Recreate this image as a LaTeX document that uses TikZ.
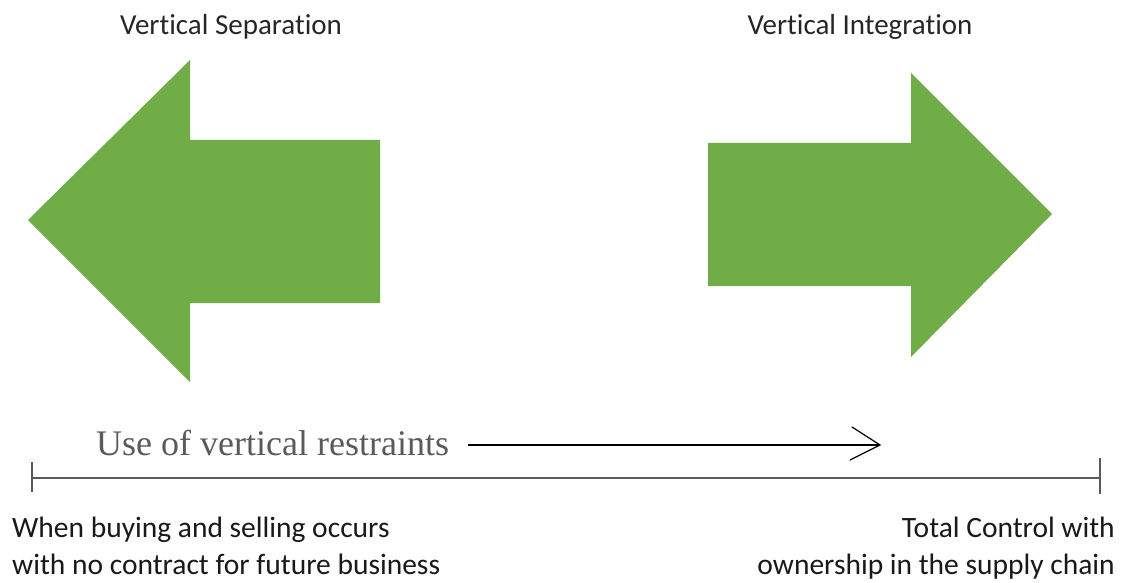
\documentclass[tikz,border=0pt]{standalone}
\usepackage{fontspec}
\setmainfont{Carlito}[RawFeature={-liga;-calt;-clig;-dlig}]
\newfontfamily\serifface{Liberation Serif}
\definecolor{offgreen}{HTML}{70AD47}
\definecolor{axisgray}{HTML}{595959}
\definecolor{labelgray}{HTML}{5A5A5A}
\begin{document}
\begin{tikzpicture}[x=1pt,y=-1pt,
  bigarrow/.style={fill=offgreen,draw=none},
  title/.style={font=\fontsize{29}{34}\selectfont,text=black!85,inner sep=0pt,anchor=base},
  caption/.style={font=\fontsize{29.5}{37}\selectfont,text=black!90,inner sep=0pt},
  axis/.style={draw=axisgray,line width=2.6pt},
  restraint/.style={draw=black,line width=1.2pt}]
\useasboundingbox (0,0) rectangle (1127,583);
% green arrows
\fill[bigarrow] (28,220) -- (190,60) -- (190,140) -- (380,140) -- (380,303) -- (190,303) -- (190,382) -- cycle;
\fill[bigarrow] (1052,214) -- (911,73) -- (911,143) -- (708,143) -- (708,286) -- (911,286) -- (911,357) -- cycle;
% titles
\node[title] (sep) at (231,35) {Vertical Separation};
\node[title] (int) at (860,35) {Vertical Integration};
% axis
\coordinate (al) at (32,478);
\coordinate (ar) at (1100,478);
\draw[axis] (al) -- (ar);
\draw[axis] ([yshift=-14pt]al) -- ([yshift=16pt]al);
\draw[axis] ([yshift=-16pt]ar) -- ([yshift=20pt]ar);
% restraints
\node[font=\serifface\fontsize{36}{40}\selectfont,text=labelgray,anchor=base west,inner sep=0pt] (use) at (96,455) {Use of vertical restraints};
\coordinate (rs) at (468,445);
\coordinate (re) at (880,445);
\draw[restraint] (rs) -- (re);
\draw[restraint,line cap=round] ([xshift=-30pt,yshift=-15pt]re) -- (re) -- ([xshift=-28pt,yshift=18pt]re);
% captions
\node[caption,anchor=base west,align=left] (lcap) at (12,574) {When buying and selling occurs\\with no contract for future business};
\node[caption,anchor=base east,align=right] (rcap) at (1115,574) {Total Control with\\ownership in the supply chain};
\end{tikzpicture}
\end{document}
